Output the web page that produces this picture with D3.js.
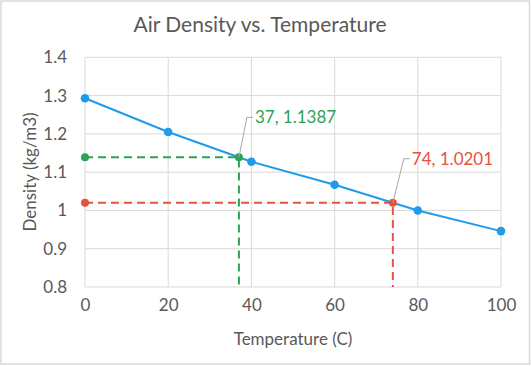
<!DOCTYPE html>
<html><head><meta charset="utf-8">
<script src="https://cdn.jsdelivr.net/npm/d3@7"></script>
<style>body{margin:0;background:#fff}svg{display:block}text{font-family:Lato,"Open Sans",sans-serif;fill:#595959}</style>
</head><body><svg id="c" width="531" height="366"></svg>
<script>
const temps = [0, 20, 40, 60, 80, 100];
const density = [1.293, 1.205, 1.127, 1.067, 1.000, 0.946];
const xTicks = [0, 20, 40, 60, 80, 100];
const yTicks = [0.8, 0.9, 1.0, 1.1, 1.2, 1.3, 1.4];
const lookupX = [37, 74];
const lookupY = [1.1387, 1.0201];
const lookupLabels = ["37, 1.1387", "74, 1.0201"];
const lookupColors = ["#2AA356", "#E5533E"];
const title = "Air Density vs. Temperature";
const xTitle = "Temperature (C)";
const yTitle = "Density (kg/m3)";

const svg = d3.select("#c");
const W = 531, H = 366;
svg.append("rect").attr("x",1).attr("y",1).attr("width",W-2.5).attr("height",H-3).attr("fill","#fff").attr("stroke","#d9d9d9").attr("stroke-width",1.5);

const x = d3.scaleLinear().domain([0,100]).range([85,501]);
const y = d3.scaleLinear().domain([0.8,1.4]).range([287,57.3]);

// gridlines
const g = svg.append("g");
g.selectAll(".vg").data(xTicks).join("line").attr("x1",d=>x(d)).attr("x2",d=>x(d)).attr("y1",y(1.4)).attr("y2",y(0.8)).attr("stroke","#d9d9d9").attr("stroke-width",1);
g.selectAll(".hg").data(yTicks).join("line").attr("y1",d=>y(d)).attr("y2",d=>y(d)).attr("x1",x(0)).attr("x2",x(100)).attr("stroke","#d9d9d9").attr("stroke-width",1);

// axes (labels only)
const fmt = d => d3.format("")(+d.toFixed(1));
const xa = svg.append("g").attr("transform",`translate(0,${y(0.8)})`).call(d3.axisBottom(x).tickValues(xTicks).tickSize(0).tickPadding(12).tickFormat(d3.format("d")));
const ya = svg.append("g").attr("transform",`translate(${x(0)},0)`).call(d3.axisLeft(y).tickValues(yTicks).tickSize(0).tickPadding(18).tickFormat(fmt));
[xa,ya].forEach(a=>{a.select(".domain").remove();a.selectAll("text").attr("font-size",17).attr("fill","#595959").style("font-family","Lato, sans-serif");});

// lookup dashed lines
lookupX.forEach((lx,i)=>{
  const c = lookupColors[i];
  svg.append("path").attr("d",d3.line()([[x(0),y(lookupY[i])],[x(lx),y(lookupY[i])],[x(lx),y(0.8)]])).attr("fill","none").attr("stroke",c).attr("stroke-width",2).attr("stroke-dasharray","8,5");
});

// main line
svg.append("path").datum(temps.map((t,i)=>[t,density[i]])).attr("d",d3.line().x(d=>x(d[0])).y(d=>y(d[1]))).attr("fill","none").attr("stroke","#1F9BEA").attr("stroke-width",2);
svg.selectAll(".pt").data(temps.map((t,i)=>[t,density[i]])).join("circle").attr("cx",d=>x(d[0])).attr("cy",d=>y(d[1])).attr("r",4.3).attr("fill","#1F9BEA");

// lookup points + labels
const leaderDx = [[8,-40],[11,-44]];
lookupX.forEach((lx,i)=>{
  const c = lookupColors[i];
  svg.append("circle").attr("cx",x(0)).attr("cy",y(lookupY[i])).attr("r",4).attr("fill",c);
  svg.append("circle").attr("cx",x(lx)).attr("cy",y(lookupY[i])).attr("r",4).attr("fill",c);
  const px = x(lx), py = y(lookupY[i]);
  const ex = px + leaderDx[i][0], ey = py + leaderDx[i][1];
  svg.append("path").attr("d",d3.line()([[px,py],[ex,ey],[ex+6,ey]])).attr("fill","none").attr("stroke","#a6a6a6").attr("stroke-width",1);
  svg.append("text").attr("x",ex+8).attr("y",ey).attr("dy","0.35em").attr("font-size",17).style("fill",c).text(lookupLabels[i]);
});

// titles
svg.append("text").attr("x",260).attr("y",25).attr("dy","0.35em").attr("text-anchor","middle").attr("font-size",21).text(title);
svg.append("text").attr("x",293).attr("y",339).attr("dy","0.35em").attr("text-anchor","middle").attr("font-size",17).text(xTitle);
svg.append("text").attr("transform","translate(30,172) rotate(-90)").attr("dy","0.35em").attr("text-anchor","middle").attr("font-size",17).text(yTitle);
</script></body></html>
